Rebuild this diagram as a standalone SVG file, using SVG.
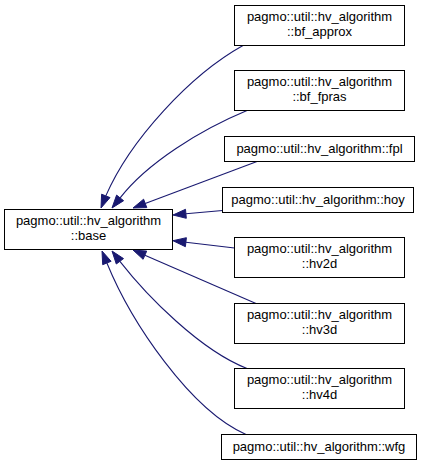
<svg xmlns="http://www.w3.org/2000/svg" width="424" height="467" viewBox="0 0 424 467">
<style>
.n rect{fill:#ffffff;stroke:#000000;stroke-width:1}
.n text{font-family:"Liberation Sans",Arial,Helvetica,sans-serif;font-size:13px;fill:#000000;text-anchor:middle}
.e path{fill:none;stroke:#191970;stroke-width:1.1}
.e polygon{fill:#191970;stroke:#191970;stroke-width:1}
</style>
<rect width="424" height="467" fill="#ffffff"/>
<g id="edges" class="e">
<path d="M243,45.5 C190,75 130,140 105.8,195.9"/>
<polygon points="101,208 110,197.6 101.6,194.2"/>
<path d="M247,110.5 C200,130 147,163 120.1,197.9"/>
<polygon points="112,208 123.6,200.7 116.6,195.1"/>
<path d="M257,161.5 L145.2,203.4"/>
<polygon points="133,208 146.8,207.6 143.6,199.2"/>
<path d="M222.5,210.5 L185.9,213.8"/>
<polygon points="173,215 186.3,218.3 185.5,209.3"/>
<path d="M234.5,248 L185.9,242.2"/>
<polygon points="173,240.7 185.4,246.7 186.4,237.7"/>
<path d="M256,303.5 L144.9,255.2"/>
<polygon points="133,250 143.1,259.3 146.7,251.1"/>
<path d="M247,368.5 C200,350 147,296 119.9,261.3"/>
<polygon points="112,251 116.3,264 123.5,258.6"/>
<path d="M246,434.5 C190,410 131,322 106.9,263"/>
<polygon points="102,251 102.7,264.7 111.1,261.3"/>
</g>
<g id="base" class="n">
<rect x="4.5" y="209.5" width="168" height="40"/>
<text x="88.5" y="225">pagmo::util::hv_algorithm</text>
<text x="88.5" y="240">::base</text>
</g>
<g id="bf_approx" class="n">
<rect x="234.5" y="5.5" width="170" height="40"/>
<text x="319.5" y="21">pagmo::util::hv_algorithm</text>
<text x="319.5" y="36">::bf_approx</text>
</g>
<g id="bf_fpras" class="n">
<rect x="234.5" y="70.5" width="170" height="40"/>
<text x="319.5" y="86">pagmo::util::hv_algorithm</text>
<text x="319.5" y="101">::bf_fpras</text>
</g>
<g id="fpl" class="n">
<rect x="224.5" y="136.5" width="190" height="25"/>
<text x="319.5" y="152.5">pagmo::util::hv_algorithm::fpl</text>
</g>
<g id="hoy" class="n">
<rect x="222.5" y="187.5" width="191" height="25"/>
<text x="318" y="203.5">pagmo::util::hv_algorithm::hoy</text>
</g>
<g id="hv2d" class="n">
<rect x="234.5" y="237.5" width="170" height="40"/>
<text x="319.5" y="253">pagmo::util::hv_algorithm</text>
<text x="319.5" y="268">::hv2d</text>
</g>
<g id="hv3d" class="n">
<rect x="234.5" y="303.5" width="170" height="40"/>
<text x="319.5" y="319">pagmo::util::hv_algorithm</text>
<text x="319.5" y="334">::hv3d</text>
</g>
<g id="hv4d" class="n">
<rect x="234.5" y="368.5" width="170" height="40"/>
<text x="319.5" y="384">pagmo::util::hv_algorithm</text>
<text x="319.5" y="399">::hv4d</text>
</g>
<g id="wfg" class="n">
<rect x="221.5" y="434.5" width="195" height="25"/>
<text x="319" y="450.5">pagmo::util::hv_algorithm::wfg</text>
</g>
</svg>
